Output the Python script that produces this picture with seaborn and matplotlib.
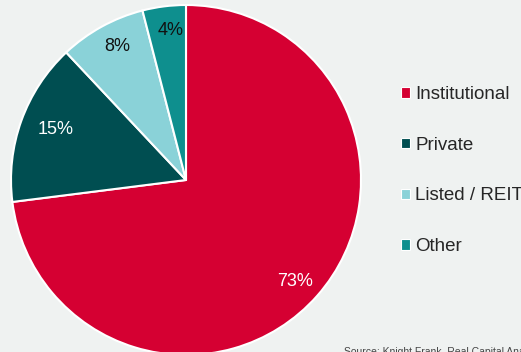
import matplotlib
matplotlib.use("Agg")
import numpy as np
import matplotlib.pyplot as plt
import seaborn as sns
from matplotlib.patches import Patch

categories = ["Institutional", "Private", "Listed / REIT", "Other"]
shares = [73, 15, 8, 4]
pct_labels = ["73%", "15%", "8%", "4%"]
colors = ["#D50032", "#004E51", "#8AD2D8", "#0E8F8E"]
label_colors = ["white", "white", "#111111", "#111111"]
label_radius = [0.85, 0.80, 0.86, 0.86]
source = "Source: Knight Frank, Real Capital Analytics"

sns.set_theme(style="white")
plt.rcParams["font.family"] = ["Liberation Sans", "DejaVu Sans"]
bg = "#EFF2F1"

W, H = 521, 352
fig = plt.figure(figsize=(W / 100, H / 100), dpi=100, facecolor=bg)
ax = fig.add_axes([0, 0, 1, 1])
ax.set_facecolor(bg)

cx, cy, r = 186, H - 180, 175
wedges, texts = ax.pie(shares, colors=sns.color_palette(colors), startangle=90,
                       counterclock=False, center=(cx, cy), radius=r,
                       wedgeprops=dict(edgecolor="white", linewidth=1.5))
for w, lab, col, d in zip(wedges, pct_labels, label_colors, label_radius):
    ang = np.deg2rad((w.theta1 + w.theta2) / 2 - 1.5)
    x = cx + d * r * np.cos(ang)
    y = cy + d * r * np.sin(ang)
    ax.text(x, y, lab, ha="center", va="center", color=col, fontsize=13)

ax.set_xlim(0, W)
ax.set_ylim(0, H)
ax.set_aspect("equal")
ax.axis("off")

handles = [Patch(facecolor=c, edgecolor="white", linewidth=0.8) for c in colors]
fig.legend(handles, categories, loc="upper left", bbox_to_anchor=(401 / W, 1 - 86 / H),
           frameon=False, fontsize=13.5, handlelength=0.5, handleheight=0.5,
           handletextpad=0.25, labelspacing=1.8, borderaxespad=0, borderpad=0)

fig.text(344 / W, 1 - 347 / H, source, fontsize=7.5, color="#444444", va="top", ha="left")

fig.savefig("out.png", dpi=100, facecolor=bg)
